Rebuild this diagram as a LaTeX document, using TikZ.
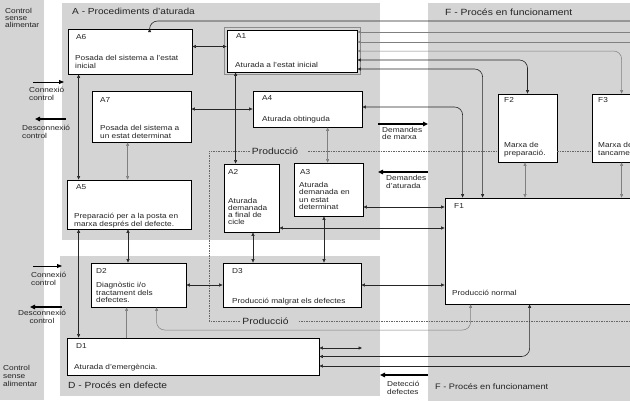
\documentclass[tikz,border=0pt]{standalone}
\usepackage{fontspec}
\setmainfont[FakeStretch=1.15]{Liberation Sans}
\usetikzlibrary{arrows.meta,calc}
\definecolor{rg}{RGB}{212,212,212}
\definecolor{tx}{RGB}{35,35,35}
\begin{document}
\begin{tikzpicture}[x=1pt,y=-1pt,
  box/.style={draw=black, line width=0.8pt, fill=white, inner sep=0pt},
  idt/.style={font=\fontsize{7.2}{7.4}\selectfont, text=tx, inner sep=0pt, anchor=north west},
  dsc/.style={idt, align=left},
  reg/.style={text=tx, inner sep=0pt, anchor=west},
  side/.style={font=\fontsize{7.2}{8}\selectfont, text=tx, inner sep=0pt, anchor=north west, align=left},
  prodl/.style={font=\fontsize{9}{10}\selectfont, text=tx, inner sep=2pt},
  tip/.style={-{Triangle[length=3.5pt,width=3pt]}},
  dtip/.style={{Triangle[length=3.5pt,width=3pt]}-{Triangle[length=3.5pt,width=3pt]}},
  ln/.style={draw=black!85, line width=0.6pt},
  lg/.style={draw=black!50, line width=0.5pt},
  bigarr/.style={draw=black, line width=1.4pt, -{Triangle[length=5pt,width=4.5pt]}},
  thinarr/.style={draw=black, line width=0.9pt, -{Triangle[length=5pt,width=4pt]}},
  prod/.style={draw=black!60, line width=0.6pt, dash pattern=on 1.5pt off 1pt},
  rc/.style={rounded corners=8pt}
]
\useasboundingbox (0,0) rectangle (630,400);
\clip (0,0) rectangle (630,400);
% regions
\fill[rg] (0,0) rectangle (44,400);
\fill[rg] (62,3) rectangle (380,240);
\fill[rg] (60,256) rectangle (380,396);
\fill[rg] (428,3) rectangle (632,402);

% region labels
\node[reg, font=\fontsize{8.8}{10}\selectfont] (tA) at (72,11) {A - Procediments d'aturada};
\node[reg, font=\fontsize{9}{10}\selectfont] (tF) at (445,12) {F - Procés en funcionament};
\node[reg, font=\fontsize{8.9}{10}\selectfont] (tD) at (68,385) {D - Procés en defecte};
\node[reg, font=\fontsize{8}{10}\selectfont] (tF2) at (435,387) {F - Procés en funcionament};

% boxes
\node[box, minimum width=124pt, minimum height=45pt] (A6) at (130,51.5) {};
\node[box, minimum width=99pt, minimum height=51pt] (A7) at (141.5,116.5) {};
\node[box, minimum width=130pt, minimum height=42pt] (A1) at (292,51) {};
\draw[black!45, line width=0.5pt] ([shift={(-2.5pt,2pt)}]A1.north west) rectangle ([shift={(2.5pt,-2pt)}]A1.south east);
\node[box, minimum width=109pt, minimum height=36pt] (A4) at (307.5,109) {};
\node[box, minimum width=124pt, minimum height=49pt] (A5) at (129,204.5) {};
\node[box, minimum width=55pt, minimum height=68pt] (A2) at (251.5,198) {};
\node[box, minimum width=69pt, minimum height=53pt] (A3) at (328.5,189.5) {};
\node[box, minimum width=59pt, minimum height=68pt] (F2) at (527.5,128) {};
\node[box, minimum width=88pt, minimum height=68pt] (F3) at (636,128) {};
\node[box, minimum width=255pt, minimum height=106pt] (F1) at (572.5,251) {};
\node[box, minimum width=95pt, minimum height=44pt] (D2) at (138.5,285) {};
\node[box, minimum width=138pt, minimum height=44pt] (D3) at (292,285) {};
\node[box, minimum width=252pt, minimum height=37pt] (D1) at (193,356.5) {};

% box texts
\node[idt] (iA6) at (76,34.2) {A6};
\node[dsc] (dA6) at (75,55.2) {Posada del sistema a l'estat\\inicial};
\node[idt] (iA7) at (100,97.2) {A7};
\node[dsc] (dA7) at (100,125.2) {Posada del sistema a\\un estat determinat};
\node[idt] (iA1) at (236,33.2) {A1};
\node[dsc] (dA1) at (235,62.2) {Aturada a l'estat inicial};
\node[idt] (iA4) at (262,95.2) {A4};
\node[dsc] (dA4) at (262,116.2) {Aturada obtinguda};
\node[idt] (iA5) at (76,184.2) {A5};
\node[dsc] (dA5) at (74,213.2) {Preparació per a la posta en\\marxa després del defecte.};
\node[idt] (iA2) at (228,169.2) {A2};
\node[dsc, font=\fontsize{7.2}{7.1}\selectfont] (dA2) at (228,198.2) {Aturada\\demanada\\a final de\\cicle};
\node[idt] (iA3) at (300,169.2) {A3};
\node[dsc, font=\fontsize{7.2}{7.3}\selectfont] (dA3) at (299,182.2) {Aturada\\demanada en\\un estat\\determinat};
\node[idt] (iF2) at (504,97.2) {F2};
\node[dsc] (dF2) at (504,142.2) {Marxa de\\preparació.};
\node[idt] (iF3) at (598,97.2) {F3};
\node[dsc] (dF3) at (598,142.2) {Marxa de\\tancament};
\node[idt] (iF1) at (454,203.2) {F1};
\node[dsc] (dF1) at (452,290.2) {Producció normal};
\node[idt] (iD2) at (96,268.2) {D2};
\node[dsc] (dD2) at (96,282.2) {Diagnòstic i/o\\tractament dels\\defectes.};
\node[idt] (iD3) at (232,268.2) {D3};
\node[dsc] (dD3) at (232,298.2) {Producció malgrat els defectes};
\node[idt] (iD1) at (76,343.2) {D1};
\node[dsc] (dD1) at (74,364.2) {Aturada d'emergència.};

% side labels
\node[side, font=\fontsize{7.2}{6.8}\selectfont] (cs1) at (5,8.2) {Control\\sense\\alimentar};
\node[side] (cn1) at (29,87.2) {Connexió\\control};
\node[side] (dc1) at (22,125.2) {Desconnexió\\control};
\node[side] (cn2) at (31,272.2) {Connexió\\control};
\node[side, anchor=north, align=center] (dc2) at (42,310.2) {Desconnexió\\control};
\node[side, font=\fontsize{7.2}{7.8}\selectfont] (cs2) at (3,365.2) {Control\\sense\\alimentar};
\node[side, font=\fontsize{7.2}{7}\selectfont] (dmx) at (382,127.2) {Demandes\\de marxa};
\node[side] (dat) at (386,175.2) {Demandes\\d'aturada};
\node[side] (ddf) at (387,381.2) {Detecció\\defectes};

% label arrows
\coordinate (cc1a) at (33,82);  \coordinate (cc1b) at (64,82);
\coordinate (dc1a) at (66,119); \coordinate (dc1b) at (35,119);
\coordinate (cc2a) at (33,266); \coordinate (cc2b) at (62,266);
\coordinate (dc2a) at (62,307); \coordinate (dc2b) at (30,307);
\coordinate (dma) at (378,124); \coordinate (dmb) at (428,124);
\coordinate (daa) at (428,172); \coordinate (dab) at (378,172);
\coordinate (dda) at (428,375); \coordinate (ddb) at (380,375);
\draw[thinarr] (cc1a) -- (cc1b);
\draw[bigarr] (dc1a) -- (dc1b);
\draw[thinarr] (cc2a) -- (cc2b);
\draw[bigarr] (dc2a) -- (dc2b);
\draw[bigarr] (dma) -- (dmb);
\draw[bigarr] (daa) -- (dab);
\draw[bigarr] (dda) -- (ddb);

% Produccio dashed loop
\node[prodl] (prodT) at (275,151) {Producció};
\node[prodl] (prodB) at (265.5,321) {Producció};
\coordinate (pTL) at (209,151);
\coordinate (pBR) at (632,321);
\draw[prod] (prodT.west) -- (pTL) |- (prodB.west);
\draw[prod] ([xshift=8pt]prodT.east) -- (prodT.east -| F2.west);
\draw[prod] (prodT.east -| F2.east) -- (prodT.east -| F3.west);
\draw[prod] ([xshift=8pt]prodB.east) -- (pBR);

% right-edge coordinates
\coordinate (r21) at (632,21);
\coordinate (r32) at (632,32);
\coordinate (r42) at (632,42);
\coordinate (r366) at (632,366);
\coordinate (m330) at (300,330);
\coordinate (c348) at (362,348);

% connectors top
\draw[ln,tip,rc] (r21) -| ([xshift=82pt]A6.north west);
\draw[lg,tip] (r32) -- (A1.east |- r32);
\draw[lg,tip] (r42) -- (A1.east |- r42);
\draw[lg,dtip,rc] (A1.east) -| ([xshift=30pt]F3.north west);
\draw[ln,dtip,rc] ([yshift=-9pt]A1.east) -| (F2.north);
\draw[ln,dtip,rc] ([yshift=-18pt]A1.east) -| ([xshift=38pt]F1.north west);
\draw[ln,dtip,rc] ([yshift=2pt]A4.east) -| ([xshift=18pt]F1.north west);
\draw[ln,dtip] ([yshift=5pt]A6.east) -- ([yshift=5pt]A6.east -| A1.west);
\draw[ln,dtip] (A4.west -| A7.east) -- (A4.west);

% verticals left
\draw[ln,dtip] ([xshift=11pt]A6.south west) -- ([xshift=11pt]A6.south west |- A5.north);
\draw[ln,dtip] ([xshift=12pt]A5.south west) -- ([xshift=12pt]A5.south west |- D1.north);
\draw[lg,dtip] ([xshift=36pt]A7.south west) -- ([xshift=36pt]A7.south west |- A5.north);
\draw[ln,dtip] ([xshift=-1pt]A5.south) -- ([xshift=-1pt]A5.south |- D2.north);
\draw[lg,tip] ([xshift=36pt]D2.south west |- D1.north) -- ([xshift=36pt]D2.south west);

% middle
\draw[ln,dtip] ([xshift=9pt]A1.south west) -- ([xshift=9pt]A1.south west |- A2.north);
\draw[lg,dtip] ([xshift=75pt]A4.south west) -- ([xshift=75pt]A4.south west |- A3.north);
\draw[ln,dtip] ([xshift=1.5pt]A2.south) -- ([xshift=1.5pt]A2.south |- D3.north);
\draw[ln,dtip] ([xshift=-4.5pt]A3.south) -- ([xshift=-4.5pt]A3.south |- D3.north);
\draw[ln,dtip] ([yshift=-17.5pt]A3.east) -- ([yshift=-17.5pt]A3.east -| F1.west);
\draw[ln,dtip] ([yshift=-30pt]A2.east) -- ([yshift=-30pt]A2.east -| F1.west);
\draw[ln,dtip] (D2.east) -- (D3.west);
\draw[ln,dtip] (D3.east) -- (D3.east -| F1.west);

% F verticals
\draw[lg,dtip] ([xshift=-2.5pt]F2.south) -- ([xshift=-2.5pt]F2.south |- F1.north);
\draw[lg,dtip] ([xshift=30pt]F3.south west) -- ([xshift=30pt]F3.south west |- F1.north);

% bottom
\draw[lg,dtip,rc] ([xshift=26pt]F1.south west) |- (m330) -| ([xshift=66pt]D2.south west);
\draw[ln,dtip,rc] ([xshift=85pt]F1.south west) |- (D1.east);
\draw[ln,tip] (r366) -- (D1.east |- r366);
\draw[ln,dtip] (D1.east |- c348) -- (c348);
\end{tikzpicture}
\end{document}
